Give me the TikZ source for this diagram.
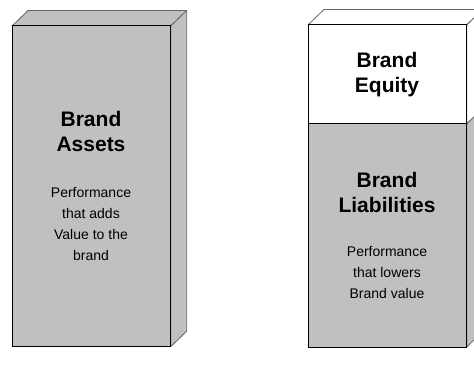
\documentclass[tikz,border=0pt]{standalone}
\usepackage{fontspec}
\setmainfont{Liberation Sans}
\definecolor{boxgray}{RGB}{192,192,192}

\begin{document}
\begin{tikzpicture}[x=1pt,y=-1pt,
  face/.style={draw=black!60,line width=0.8pt,line join=round},
  front_face/.style={draw=black,line width=1pt},
  title_text/.style={font=\fontsize{21}{25}\selectfont\bfseries,align=center,anchor=base,inner sep=0pt},
  note_text/.style={font=\fontsize{14}{20.7}\selectfont,align=center,anchor=base,inner sep=0pt}]

\useasboundingbox (0,0) rectangle (474,377);
\clip (0,0) rectangle (474,377);

% left block: assets
\filldraw[face,fill=boxgray] (12,26) -- (28,10.5) -- (186.7,10.5) -- (170.7,26) -- cycle;
\filldraw[face,fill=boxgray] (170.7,26) -- (186.7,10.5) -- (186.7,331.2) -- (170.7,346.7) -- cycle;
\filldraw[front_face,fill=boxgray] (12,26) rectangle (170.7,346.7);

\node[title_text] (assets) at (91,152) {Brand\\Assets};
\node[note_text] (assets_note) at (91,260) {Performance\\that adds\\Value to the\\brand};

% right block: equity on top of liabilities
\filldraw[face,fill=white] (308,25) -- (324,9.5) -- (482.7,9.5) -- (466.7,25) -- cycle;
\filldraw[face,fill=white] (466.7,25) -- (482.7,9.5) -- (482.7,108.5) -- (466.7,124) -- cycle;
\filldraw[face,fill=boxgray] (466.7,124) -- (482.7,108.5) -- (482.7,331.5) -- (466.7,347) -- cycle;
\filldraw[front_face,fill=white] (308,25) rectangle (466.7,124);
\filldraw[front_face,fill=boxgray] (308,124) rectangle (466.7,347);

\node[title_text] (equity) at (387,93) {Brand\\Equity};
\node[title_text] (liabilities) at (387,212) {Brand\\Liabilities};
\node[note_text] (liabilities_note) at (387,298) {Performance\\that lowers\\Brand value};

\end{tikzpicture}
\end{document}
